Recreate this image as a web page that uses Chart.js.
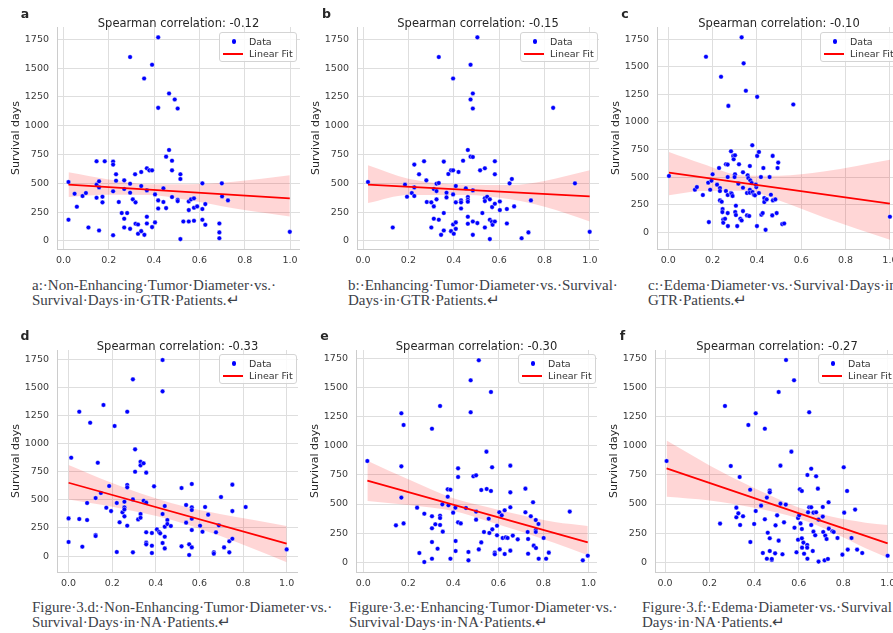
<!DOCTYPE html>
<html><head><meta charset="utf-8">
<script src="https://cdn.jsdelivr.net/npm/chart.js@4.4.1/dist/chart.umd.min.js"></script>
<style>
html,body{margin:0;padding:0;background:#fff;width:893px;height:633px;overflow:hidden;position:relative;}
canvas{position:absolute;}
.ttl{position:absolute;font:11.5px 'DejaVu Sans';color:#262626;white-space:nowrap;transform:translate(-50%,-50%);}
.let{position:absolute;font:bold 12.5px 'DejaVu Sans';color:#262626;transform:translate(-50%,-50%);}
.cap{position:absolute;font:15px 'Liberation Serif';color:#3d4148;white-space:nowrap;line-height:15px;}
.leg{position:absolute;width:76px;height:28px;border:1px solid #d4d4d4;border-radius:3px;background:rgba(255,255,255,0.85);font:9.5px 'DejaVu Sans';color:#333;}
.leg .dot{position:absolute;left:11.5px;top:6px;width:4.5px;height:4.5px;border-radius:50%;background:#0000ff;}
.leg .ln{position:absolute;left:3px;top:19.5px;width:20px;height:2px;background:#ff0000;}
.leg .t{position:absolute;left:29px;white-space:nowrap;line-height:11px;}
</style></head><body>
<script>
// ---------- tick labels ----------
const xTicks = [0, 0.2, 0.4, 0.6, 0.8, 1.0];
const yTicks = [0, 250, 500, 750, 1000, 1250, 1500, 1750];
const titles = ['Spearman correlation: -0.12','Spearman correlation: -0.15','Spearman correlation: -0.10',
                'Spearman correlation: -0.33','Spearman correlation: -0.30','Spearman correlation: -0.27'];
const letters = ['a','b','c','d','e','f'];
const captions = [
 ['a:\u00b7Non-Enhancing\u00b7Tumor\u00b7Diameter\u00b7vs.\u00b7','Survival\u00b7Days\u00b7in\u00b7GTR\u00b7Patients.\u21b5'],
 ['b:\u00b7Enhancing\u00b7Tumor\u00b7Diameter\u00b7vs.\u00b7Survival\u00b7','Days\u00b7in\u00b7GTR\u00b7Patients.\u21b5'],
 ['c:\u00b7Edema\u00b7Diameter\u00b7vs.\u00b7Survival\u00b7Days\u00b7in\u00b7','GTR\u00b7Patients.\u21b5'],
 ['Figure\u00b73.d:\u00b7Non-Enhancing\u00b7Tumor\u00b7Diameter\u00b7vs.\u00b7','Survival\u00b7Days\u00b7in\u00b7NA\u00b7Patients.\u21b5'],
 ['Figure\u00b73.e:\u00b7Enhancing\u00b7Tumor\u00b7Diameter\u00b7vs.\u00b7','Survival\u00b7Days\u00b7in\u00b7NA\u00b7Patients.\u21b5'],
 ['Figure\u00b73.f:\u00b7Edema\u00b7Diameter\u00b7vs.\u00b7Survival\u00b7','Days\u00b7in\u00b7NA\u00b7Patients.\u21b5']
];

// ---------- data: [diameter (normalised), survival days] ----------
const aPts = [[0.022,511],[0.022,183],[0.049,409],[0.059,296],[0.084,389],[0.099,415],[0.110,116],[0.146,691],[0.146,488],[0.146,374],[0.157,517],[0.157,464],[0.157,90],[0.172,383],[0.172,334],[0.182,691],[0.219,688],[0.219,662],[0.219,430],[0.219,49],[0.232,578],[0.232,522],[0.244,337],[0.257,241],[0.268,525],[0.268,450],[0.268,192],[0.268,116],[0.281,241],[0.294,1596],[0.294,496],[0.294,418],[0.294,104],[0.306,360],[0.316,578],[0.318,334],[0.318,148],[0.329,142],[0.329,61],[0.343,598],[0.343,476],[0.343,84],[0.356,1410],[0.357,52],[0.368,630],[0.368,438],[0.368,209],[0.368,151],[0.379,612],[0.391,1529],[0.391,612],[0.391,119],[0.404,403],[0.404,160],[0.418,1767],[0.418,1155],[0.418,351],[0.418,281],[0.441,456],[0.441,337],[0.453,731],[0.453,284],[0.466,1280],[0.466,789],[0.479,696],[0.479,612],[0.479,380],[0.491,1228],[0.504,1149],[0.504,357],[0.504,345],[0.516,578],[0.516,537],[0.516,15],[0.529,168],[0.553,342],[0.553,267],[0.553,168],[0.563,360],[0.576,369],[0.576,287],[0.576,174],[0.590,299],[0.613,499],[0.613,276],[0.613,183],[0.626,319],[0.626,139],[0.688,151],[0.688,73],[0.688,23],[0.699,499],[0.700,386],[0.726,351],[0.999,78]];
const bPts = [[0.022,511],[0.131,116],[0.185,488],[0.194,383],[0.215,415],[0.226,662],[0.226,464],[0.226,389],[0.247,578],[0.269,691],[0.279,525],[0.281,337],[0.301,334],[0.301,116],[0.312,450],[0.312,299],[0.312,192],[0.324,496],[0.324,432],[0.324,360],[0.334,1596],[0.334,502],[0.334,183],[0.344,52],[0.356,688],[0.356,241],[0.356,90],[0.368,418],[0.368,377],[0.376,580],[0.388,612],[0.388,84],[0.397,1410],[0.397,612],[0.397,403],[0.397,142],[0.400,61],[0.409,476],[0.409,334],[0.409,160],[0.409,104],[0.421,598],[0.432,351],[0.432,334],[0.432,281],[0.441,696],[0.453,456],[0.462,789],[0.462,380],[0.462,357],[0.462,340],[0.462,209],[0.462,148],[0.474,1529],[0.474,1228],[0.474,731],[0.484,1280],[0.484,1149],[0.484,728],[0.484,438],[0.484,168],[0.484,52],[0.504,1767],[0.504,154],[0.516,612],[0.526,241],[0.537,630],[0.537,369],[0.537,345],[0.537,116],[0.547,383],[0.559,360],[0.559,183],[0.559,15],[0.568,165],[0.569,293],[0.571,139],[0.581,691],[0.581,578],[0.581,322],[0.581,168],[0.603,342],[0.603,267],[0.634,276],[0.634,151],[0.646,499],[0.656,537],[0.666,299],[0.699,23],[0.729,73],[0.740,351],[0.838,1155],[0.934,499],[0.999,78]];
const cPts = [[0.003,510],[0.120,385],[0.129,409],[0.156,337],[0.170,1592],[0.180,449],[0.183,91],[0.189,385],[0.195,467],[0.200,525],[0.220,431],[0.229,582],[0.233,400],[0.233,373],[0.233,288],[0.238,1410],[0.241,276],[0.245,209],[0.244,182],[0.248,115],[0.248,85],[0.256,121],[0.260,616],[0.260,373],[0.268,613],[0.268,500],[0.268,337],[0.268,173],[0.269,55],[0.271,1146],[0.283,734],[0.283,355],[0.286,349],[0.290,328],[0.293,692],[0.295,661],[0.301,698],[0.301,525],[0.299,500],[0.302,182],[0.305,155],[0.305,240],[0.311,55],[0.316,440],[0.319,616],[0.325,121],[0.331,106],[0.331,1768],[0.337,543],[0.337,403],[0.337,191],[0.340,1532],[0.350,1283],[0.355,355],[0.355,152],[0.358,516],[0.361,491],[0.365,146],[0.368,600],[0.368,385],[0.368,358],[0.370,470],[0.376,446],[0.379,789],[0.380,364],[0.386,340],[0.391,334],[0.397,409],[0.395,431],[0.400,55],[0.401,1228],[0.401,692],[0.409,728],[0.409,355],[0.418,500],[0.420,158],[0.426,173],[0.429,582],[0.433,309],[0.433,273],[0.439,21],[0.444,297],[0.457,500],[0.463,340],[0.471,692],[0.469,152],[0.472,288],[0.483,297],[0.489,173],[0.493,582],[0.496,631],[0.514,73],[0.523,79],[0.564,1159],[1.000,140]];
const dPts = [[0.000,335],[0.000,125],[0.012,875],[0.049,1284],[0.049,329],[0.063,83],[0.085,472],[0.085,320],[0.099,1186],[0.124,516],[0.124,187],[0.124,178],[0.134,830],[0.148,561],[0.160,1344],[0.173,430],[0.186,623],[0.195,400],[0.211,1157],[0.221,472],[0.221,36],[0.234,300],[0.247,389],[0.256,483],[0.256,433],[0.256,353],[0.256,415],[0.269,1284],[0.269,632],[0.269,611],[0.269,270],[0.295,1572],[0.295,504],[0.295,33],[0.305,949],[0.305,750],[0.319,326],[0.330,839],[0.330,807],[0.330,374],[0.330,341],[0.344,825],[0.344,492],[0.356,742],[0.356,475],[0.356,211],[0.356,119],[0.356,104],[0.382,205],[0.382,92],[0.382,27],[0.392,620],[0.405,237],[0.415,214],[0.420,202],[0.431,1744],[0.431,1465],[0.431,374],[0.431,116],[0.441,445],[0.441,261],[0.441,172],[0.441,68],[0.453,320],[0.453,285],[0.469,267],[0.518,605],[0.518,86],[0.539,454],[0.539,297],[0.553,104],[0.553,9],[0.565,641],[0.565,433],[0.565,409],[0.565,332],[0.565,231],[0.565,77],[0.603,270],[0.614,216],[0.626,436],[0.640,368],[0.666,33],[0.666,21],[0.676,211],[0.689,273],[0.699,525],[0.713,77],[0.737,131],[0.737,33],[0.751,635],[0.751,400],[0.751,154],[0.812,436],[1.000,59]];
const ePts = [[0.018,869],[0.145,317],[0.169,1278],[0.169,823],[0.169,555],[0.179,1178],[0.179,334],[0.239,469],[0.249,80],[0.271,417],[0.271,3],[0.305,1146],[0.305,395],[0.305,292],[0.305,174],[0.305,31],[0.320,326],[0.330,117],[0.341,1341],[0.341,400],[0.341,380],[0.341,320],[0.351,497],[0.353,263],[0.375,626],[0.375,563],[0.378,489],[0.387,623],[0.387,31],[0.399,426],[0.409,469],[0.410,183],[0.410,97],[0.421,806],[0.421,732],[0.421,343],[0.433,334],[0.456,466],[0.467,89],[0.467,17],[0.477,1561],[0.477,1287],[0.489,738],[0.501,746],[0.501,435],[0.501,366],[0.513,1733],[0.513,111],[0.524,620],[0.524,171],[0.536,260],[0.547,949],[0.548,629],[0.557,374],[0.560,252],[0.567,1461],[0.567,612],[0.572,815],[0.573,283],[0.584,83],[0.584,69],[0.594,314],[0.594,232],[0.604,429],[0.606,111],[0.615,403],[0.619,209],[0.628,71],[0.628,446],[0.633,214],[0.641,209],[0.653,600],[0.653,472],[0.653,100],[0.653,829],[0.664,229],[0.686,197],[0.720,632],[0.720,429],[0.730,260],[0.732,200],[0.732,74],[0.744,395],[0.754,515],[0.757,143],[0.766,363],[0.766,277],[0.766,260],[0.767,123],[0.778,329],[0.779,31],[0.801,209],[0.812,31],[0.824,83],[0.917,435],[0.975,17],[0.997,57]];
const fPts = [[0.007,869],[0.247,332],[0.269,1341],[0.295,826],[0.320,469],[0.320,386],[0.329,420],[0.335,732],[0.337,320],[0.350,395],[0.374,1178],[0.382,623],[0.383,174],[0.400,329],[0.407,440],[0.407,1278],[0.431,486],[0.439,80],[0.448,369],[0.448,1146],[0.457,555],[0.457,31],[0.461,254],[0.470,206],[0.470,97],[0.470,615],[0.470,600],[0.479,20],[0.479,29],[0.494,77],[0.496,317],[0.503,403],[0.510,1461],[0.510,186],[0.518,503],[0.518,829],[0.527,69],[0.534,343],[0.542,495],[0.543,1735],[0.567,949],[0.579,1561],[0.581,297],[0.590,86],[0.597,380],[0.597,194],[0.602,403],[0.605,626],[0.608,334],[0.614,612],[0.614,286],[0.614,206],[0.615,126],[0.621,169],[0.624,74],[0.638,149],[0.638,126],[0.639,749],[0.639,31],[0.642,429],[0.647,472],[0.647,1287],[0.656,803],[0.656,472],[0.656,320],[0.663,97],[0.666,426],[0.666,263],[0.674,232],[0.678,429],[0.678,738],[0.686,632],[0.689,366],[0.689,6],[0.708,392],[0.708,475],[0.710,260],[0.716,17],[0.719,229],[0.725,200],[0.731,29],[0.734,515],[0.735,289],[0.751,266],[0.757,260],[0.774,209],[0.796,66],[0.802,815],[0.804,426],[0.817,612],[0.820,109],[0.837,209],[0.853,452],[0.862,109],[0.885,80],[0.999,57]];

// linear fit end points
const aFitX = [0.022, 0.999], aFitY = [488, 368];
const bFitX = [0.022, 0.999], bFitY = [488, 386];
const cFitX = [0.003, 1.000], cFitY = [540, 258];
const dFitX = [0.000, 1.000], dFitY = [652, 110];
const eFitX = [0.018, 0.997], eFitY = [700, 172];
const fFitX = [0.007, 0.999], fFitY = [806, 163];

// confidence band edges
const aBandX = [0.022, 0.2, 0.37, 0.55, 0.75, 0.999], aBandUp = [595, 532, 491, 491, 513, 569], aBandLo = [381, 400, 399, 355, 283, 212];
const bBandX = [0.022, 0.2, 0.45, 0.65, 0.8, 0.999], bBandUp = [656, 540, 488, 485, 520, 612], bBandLo = [328, 398, 398, 360, 295, 168];
const cBandX = [0.003, 0.15, 0.34, 0.5, 0.7, 1.0], cBandUp = [728, 624, 515, 512, 550, 658], cBandLo = [334, 374, 375, 288, 136, -70];
const dBandX = [0.0, 0.2, 0.47, 0.7, 0.85, 1.0], dBandUp = [810, 649, 471, 371, 320, 267], dBandLo = [504, 439, 323, 175, 62, -56];
const eBandX = [0.018, 0.2, 0.4, 0.55, 0.7, 0.85, 0.997], eBandUp = [872, 712, 550, 475, 405, 345, 312], eBandLo = [526, 492, 440, 355, 265, 165, 60];
const fBandX = [0.007, 0.2, 0.4, 0.6, 0.75, 0.9, 0.999], fBandUp = [1044, 831, 637, 470, 390, 340, 320], fBandLo = [563, 531, 467, 375, 260, 120, 40];

// ---------- layout (positions / axis limits) ----------
const YW = 50, XH = 22;
const layout = [
 {L:57,  R:300, T:27,  B:248.5, xMin:-0.0287, xMax:1.044, yMin:-71,  yMax:1857, leg:[219,32],  let:[25,13],   cap:[32,277.5]},
 {L:357, R:599, T:27,  B:248.5, xMin:-0.0265, xMax:1.040, yMin:-71,  yMax:1857, leg:[520,32],  let:[326.5,13],cap:[348,277.5]},
 {L:657, R:901, T:27,  B:248.5, xMin:-0.051,  xMax:1.050, yMin:-153, yMax:1862, leg:[820,32],  let:[625,13],  cap:[648,277.5]},
 {L:57,  R:298, T:350, B:572,   xMin:-0.0531, xMax:1.052, yMin:-142, yMax:1833, leg:[219,354], let:[25,335],  cap:[32,600]},
 {L:356, R:597, T:350, B:572,   xMin:-0.0324, xMax:1.038, yMin:-83,  yMax:1821, leg:[518,354], let:[324.5,335],cap:[349,600]},
 {L:655, R:899, T:350, B:572,   xMin:-0.045,  xMax:1.050, yMin:-83,  yMax:1821, leg:[818,354], let:[622.5,335],cap:[642,600]}
];
const series = [
 [aPts,aFitX,aFitY,aBandX,aBandUp,aBandLo],
 [bPts,bFitX,bFitY,bBandX,bBandUp,bBandLo],
 [cPts,cFitX,cFitY,cBandX,cBandUp,cBandLo],
 [dPts,dFitX,dFitY,dBandX,dBandUp,dBandLo],
 [ePts,eFitX,eFitY,eBandX,eBandUp,eBandLo],
 [fPts,fFitX,fFitY,fBandX,fBandUp,fBandLo]
];

const zip = (xs, ys) => xs.map((x, i) => ({x: x, y: ys[i]}));
const tickFont = {family: 'DejaVu Sans', size: 9.5};
const tickColor = '#3a3a3a';

function addDiv(cls, txt, x, y) {
  const d = document.createElement('div');
  d.className = cls; d.textContent = txt;
  d.style.left = x + 'px'; d.style.top = y + 'px';
  document.body.appendChild(d);
  return d;
}

layout.forEach((p, i) => {
  const [pts, fx, fy, bx, bu, bl] = series[i];
  const cv = document.createElement('canvas');
  const W = Math.round(p.R - p.L + YW), H = Math.round(p.B - p.T + XH);
  cv.width = W; cv.height = H;
  cv.style.width = W + 'px'; cv.style.height = H + 'px';
  cv.style.left = (p.L - YW) + 'px'; cv.style.top = p.T + 'px';
  document.body.appendChild(cv);

  new Chart(cv, {
    type: 'scatter',
    data: {datasets: [
      {label: 'Linear Fit', data: zip(fx, fy), showLine: true, borderColor: '#ff0000', borderWidth: 1.8, pointRadius: 0, fill: false},
      {label: 'Data', data: pts.map(q => ({x: q[0], y: q[1]})), pointRadius: 2.3, pointBackgroundColor: '#0000ff', pointBorderColor: '#ffffff', pointBorderWidth: 0.4},
      {label: 'lo', data: zip(bx, bl), showLine: true, borderWidth: 0, borderColor: 'rgba(0,0,0,0)', pointRadius: 0, fill: false, cubicInterpolationMode: 'monotone'},
      {label: 'up', data: zip(bx, bu), showLine: true, borderWidth: 0, borderColor: 'rgba(0,0,0,0)', pointRadius: 0, fill: '-1', backgroundColor: 'rgba(255,0,0,0.16)', cubicInterpolationMode: 'monotone'}
    ]},
    options: {
      responsive: false, animation: false, events: [],
      layout: {padding: 0, autoPadding: false},
      plugins: {legend: {display: false}, tooltip: {enabled: false}, title: {display: false}},
      scales: {
        x: {
          type: 'linear', min: p.xMin, max: p.xMax,
          afterBuildTicks: s => { s.ticks = xTicks.map(v => ({value: v})); },
          afterFit: s => { s.height = XH; s.paddingLeft = 0; s.paddingRight = 0; },
          ticks: {callback: v => Number(v).toFixed(1), font: tickFont, color: tickColor, padding: 6, maxRotation: 0, autoSkip: false},
          grid: {color: '#dedede', lineWidth: 1, drawTicks: false},
          border: {display: true, color: '#cccccc', width: 1}
        },
        y: {
          type: 'linear', min: p.yMin, max: p.yMax,
          afterBuildTicks: s => { s.ticks = yTicks.map(v => ({value: v})); },
          afterFit: s => { s.width = YW; s.paddingTop = 0; s.paddingBottom = 0; },
          ticks: {callback: v => String(v), font: tickFont, color: tickColor, padding: 8, autoSkip: false},
          grid: {color: '#dedede', lineWidth: 1, drawTicks: false},
          border: {display: true, color: '#cccccc', width: 1},
          title: {display: true, text: 'Survival days', font: {family: 'DejaVu Sans', size: 11}, color: '#262626', padding: {top: 2.4, bottom: 0}}
        }
      }
    }
  });

  addDiv('ttl', titles[i], (p.L + p.R) / 2, p.T - 3.7);
  addDiv('let', letters[i], p.let[0], p.let[1]);
  const cap = addDiv('cap', '', p.cap[0], p.cap[1]);
  captions[i].forEach(line => {
    const s = document.createElement('div'); s.textContent = line; cap.appendChild(s);
  });
  const lg = document.createElement('div');
  lg.className = 'leg';
  lg.style.left = p.leg[0] + 'px'; lg.style.top = p.leg[1] + 'px';
  lg.innerHTML = '<span class="dot"></span><span class="ln"></span>';
  const t1 = document.createElement('span'); t1.className = 't'; t1.style.top = '2.5px'; t1.textContent = 'Data';
  const t2 = document.createElement('span'); t2.className = 't'; t2.style.top = '15px'; t2.textContent = 'Linear Fit';
  lg.appendChild(t1); lg.appendChild(t2);
  document.body.appendChild(lg);
});
</script>
</body></html>
